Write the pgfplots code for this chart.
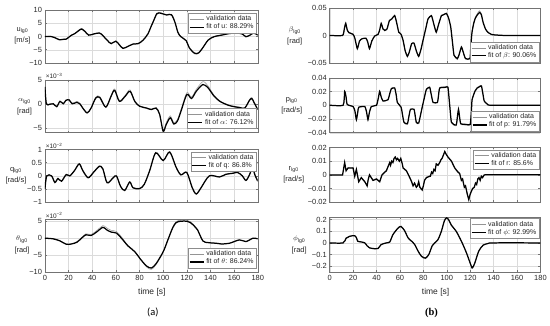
\documentclass[border=0pt]{standalone}
\usepackage{fontspec}
\setmainfont{Liberation Sans}
\newfontfamily\carlito{Carlito}
\newfontfamily\serifb{Liberation Serif}
\usepackage{pgfplots}
\pgfplotsset{compat=1.18}
\pgfplotsset{
  myax/.style={scale only axis, anchor=south west, xmin=0, xmax=180,
    xtick={0,20,...,180}, xticklabels={}, grid=major, scaled y ticks=false,
    grid style={black!14, line width=0.3pt},
    axis line style={black!55, line width=0.4pt},
    tick style={black!55, line width=0.4pt}, major tick length=2pt,
    tick align=inside,
    ticklabel style={font=\fontsize{7.5}{8}\selectfont, text=black!85},
    yticklabel style={xshift=0.5pt},
    legend style={font=\fontsize{7}{7.5}\selectfont, draw=black!45, line width=0.3pt,
      inner sep=0.6pt, row sep=-2.5pt, legend cell align=left, text=black!85},
    legend image code/.code={\draw[##1] (0bp,0bp) -- (14bp,0bp);},
  },
  L/.style={myax, width=213bp, height=53bp},
  R/.style={myax, width=211bp, height=55bp},
  bottom/.style={xticklabels={0,20,40,60,80,100,120,140,160,180}},
  val/.style={color=black!42, line width=0.5pt},
  fit/.style={color=black, line width=1.25pt},
}
\begin{document}
\begin{tikzpicture}
\path (0bp,0bp) rectangle (550bp,326bp);
% ---------------- u
\begin{axis}[L, at={(45bp,263bp)}, ymin=-10, ymax=10, ytick={-10,-5,0,5,10},
  yticklabels={−10,−5,0,5,10},
  legend style={at={(0.993,0.94)}, anchor=north east}]
\addplot[val, smooth] coordinates {(0,0) (5,0.1) (8,-0.3) (12,-1.1) (15.5,-1.0) (18,-0.9) (22.5,0.6) (25,1.1) (28,2.2) (31,3.1) (34,2.0) (37,0.6) (41,1.0) (46,1.4) (49,0.4) (53,-1.5) (56,-2.6) (60,-1.7) (63,-3.0) (66,-4.3) (70,-3.7) (74.5,-2.7) (79,-2.5) (83,-1.3) (87,1.0) (90,4.1) (92,6.2) (94.5,8.8) (96.5,9.2) (100,8.6) (103,8.3) (107,8.4) (110,5.4) (112.5,1.6) (115,0) (119.5,-1.5) (122,-4.3) (126.5,-6.6) (130,-6.4) (133.6,-4.3) (138,-1.4) (143,0) (150.5,0.7) (156,1.2) (162,1.4) (167,1.0) (170,0) (173.5,0.6) (176.6,1.4) (180,0.6)};
\addlegendentry{validation data}
\addplot[fit, smooth] coordinates {(0,0) (5,0) (8,-0.4) (12,-1.2) (15.5,-1.1) (18,-1) (22.5,0.5) (25,1) (28,2) (31,2.8) (34,1.8) (37,0.5) (41,0.9) (46,1.3) (49,0.3) (53,-1.6) (56,-2.7) (60,-1.8) (63,-3.2) (66,-4.5) (70,-3.8) (74.5,-2.9) (79,-2.7) (83,-1.4) (87,0.9) (90,4) (92,6) (94.5,8.5) (96.5,8.9) (100,8.5) (103,8.1) (107,8.2) (110,5.3) (112.5,1.5) (115,-0.1) (119.5,-1.6) (122,-4.2) (126.5,-6.3) (130,-6.2) (133.6,-4.2) (138,-1.4) (143,-0.1) (150.5,0.6) (156,1.1) (162,1.3) (167,0.9) (170,-0.1) (173.5,0.5) (176.6,1.3) (180,0.5)};
\addlegendentry{fit of u: 88.29\%}
\end{axis}
% ---------------- alpha
\begin{axis}[L, name=axA, at={(45bp,193.2bp)}, ymin=-6, ymax=5, ytick={-5,0,5},
  yticklabels={−5,0,5},
  legend style={at={(0.993,0.08)}, anchor=south east}]
\addplot[val, smooth] coordinates {(0,3.5) (1.2,0.1) (4,0) (7,0.1) (10,-0.5) (12.7,0.6) (15.5,0.1) (17.7,0.8) (20.5,0.9) (23,0.1) (27,0.5) (29.5,0.1) (32,-0.8) (35.7,-1.8) (39,-0.8) (43,1.4) (46.4,1.5) (51.5,-0.6) (56,1.8) (59,3.1) (63,0.7) (68,1.8) (72,2.9) (76,0.6) (80,-0.4) (86,-0.8) (90,-1.1) (94,-0.8) (97,-2.0) (100,-5.4) (102.6,-3.9) (106,-2.5) (109,-3.9) (112,-3.3) (115,-1.3) (120,2.3) (124,1.4) (128,3.0) (133.6,4.6) (138,3.7) (143,1.8) (148,0.6) (155,-0.2) (160,-0.5) (165,-0.7) (169,-0.8) (173,0.9) (175,1.3) (177,0.3) (180,-1.1)};
\addlegendentry{validation data}
\addplot[fit, smooth] coordinates {(0,3.5) (1.2,0) (4,-0.1) (7,0) (10,-0.6) (12.7,0.5) (15.5,0) (17.7,0.7) (20.5,0.8) (23,0) (27,0.3) (29.5,0) (32,-0.9) (35.7,-1.9) (39,-0.9) (43,1.2) (46.4,1.3) (51.5,-0.7) (56,1.6) (59,2.8) (63,0.5) (68,1.6) (72,2.6) (76,0.5) (80,-0.5) (86,-0.9) (90,-1.2) (94,-0.9) (97,-2.2) (100,-5.7) (102.6,-4.3) (106,-2.9) (109,-4.2) (112,-3.6) (115,-1.6) (120,1.9) (124,1.1) (128,2.6) (133.6,4.0) (138,3.3) (143,1.6) (148,0.5) (155,-0.3) (160,-0.6) (165,-0.8) (169,-0.9) (173,0.7) (175,1.1) (177,0.2) (180,-1.2)};
\addlegendentry{fit of $\alpha$: 76.12\%}
\end{axis}
% ---------------- q
\begin{axis}[L, name=axQ, at={(45bp,123.4bp)}, ymin=-1, ymax=1, ytick={-1,-0.5,0,0.5,1},
  yticklabels={−1,−0.5,0,0.5,1},
  legend style={at={(0.993,0.96)}, anchor=north east}]
\addplot[val, smooth] coordinates {(0,-0.5) (1.5,0) (5.6,0.01) (8.4,-0.23) (11,-0.08) (14,-0.18) (18,0.07) (21,0.02) (25,0.22) (29,0.48) (32,0.23) (36.5,-0.05) (41,0.15) (46,0.39) (49,0.29) (52.6,-0.24) (57.7,-0.05) (60.5,0.02) (64,-0.38) (67.5,-0.53) (71.7,-0.21) (74.5,-0.43) (80,-0.46) (84,-0.3) (88.6,0.22) (93.7,0.9) (100,0.6) (105.5,0.93) (111,0.34) (115,0.06) (120,0.15) (124.6,-0.43) (128,-0.7) (132,-0.46) (139,0.01) (147.7,-0.03) (153,0.07) (159,0.11) (163,0.14) (167,0.01) (170,-0.16) (173,0.05) (175.5,0.33) (177.5,0.06) (180,-0.19)};
\addlegendentry{validation data}
\addplot[fit, smooth] coordinates {(0,-0.5) (1.5,0) (5.6,0) (8.4,-0.25) (11,-0.1) (14,-0.2) (18,0.05) (21,0) (25,0.2) (29,0.45) (32,0.2) (36.5,-0.07) (41,0.13) (46,0.36) (49,0.26) (52.6,-0.26) (57.7,-0.07) (60.5,0) (64,-0.4) (67.5,-0.55) (71.7,-0.23) (74.5,-0.45) (80,-0.48) (84,-0.32) (88.6,0.2) (93.7,0.87) (100,0.58) (105.5,0.9) (111,0.32) (115,0.04) (120,0.13) (124.6,-0.45) (128,-0.68) (132,-0.45) (139,0) (147.7,-0.04) (153,0.06) (159,0.1) (163,0.13) (167,0) (170,-0.17) (173,0.04) (175.5,0.32) (177.5,0.05) (180,-0.2)};
\addlegendentry{fit of q: 86.8\%}
\end{axis}
% ---------------- theta
\begin{axis}[L, name=axT, bottom, at={(45bp,53.6bp)}, ymin=-10, ymax=5.6, ytick={-10,-5,0,5},
  yticklabels={−10,−5,0,5},
  legend style={at={(0.993,0.08)}, anchor=south east}]
\addplot[val, smooth] coordinates {(0,0) (7,-0.1) (12.7,-0.7) (18,-1.7) (22.5,-1.6) (27,-1.0) (31,0.2) (34.6,1.3) (39,1.1) (43.6,2.2) (49,3.7) (52,3.1) (56,2.3) (60.5,2.0) (64.7,0.4) (70,-2.0) (76,-3.9) (81.5,-6.5) (86,-8.5) (90,-9.2) (94,-7.8) (100,-4.1) (104,-0.4) (108,3.2) (111,4.9) (115,5.3) (120,5.3) (123,4.9) (126.5,3.7) (129,2.6) (133.6,-0.8) (138,-1.3) (145,-1.5) (149,-1.7) (156,-1.5) (164.5,-0.5) (170,-1) (176,0) (180,-0.2)};
\addlegendentry{validation data}
\addplot[fit, smooth] coordinates {(0,0) (7,-0.2) (12.7,-0.8) (18,-1.8) (22.5,-1.7) (27,-1.2) (31,0) (34.6,1) (39,0.8) (43.6,1.8) (49,3.2) (52,2.5) (56,1.8) (60.5,1.5) (64.7,0) (70,-2.2) (76,-4) (81.5,-6.5) (86,-8.2) (90,-8.8) (94,-7.5) (100,-4) (104,-0.5) (108,3) (111,4.6) (115,5) (120,5) (123,4.6) (126.5,3.5) (129,2.5) (133.6,-0.8) (138,-1.3) (145,-1.5) (149,-1.7) (156,-1.5) (164.5,-0.5) (170,-1) (176,0) (180,-0.2)};
\addlegendentry{fit of $\theta$: 86.24\%}
\end{axis}
% ---------------- beta
\begin{axis}[R, at={(330bp,263bp)}, ymin=-0.05, ymax=0.05, ytick={-0.05,0,0.05},
  yticklabels={−0.05,0,0.05},
  legend style={at={(0.993,0.02)}, anchor=south east}]
\addplot[val, smooth, tension=0.3] coordinates {(0,0) (11,0) (12.5,0.013) (13.7,0.023) (15,0.011) (16.5,0.006) (20,0.003) (21.5,-0.004) (23.6,-0.025) (25.5,-0.01) (27.6,-0.006) (31,-0.005) (32.5,-0.012) (34,-0.025) (36,-0.01) (38.4,-0.001) (41.3,0.002) (42.7,0.011) (44,0.023) (45.5,0.013) (47,0.01) (49,0.013) (51,0.028) (53,0.031) (55.5,0.037) (57,0.026) (59,0.006) (61,0.002) (62.7,-0.009) (64.5,-0.029) (66.4,-0.039) (68,-0.031) (70,-0.015) (72,-0.014) (74,-0.029) (76,-0.039) (78,-0.025) (79.7,-0.009) (82,0.013) (84,0.031) (86.9,0.037) (89,0.021) (91,0.007) (93,0.021) (95.4,0.037) (97.5,0.039) (99.7,0.041) (101.5,0.033) (103.4,0.015) (105,-0.015) (106.2,-0.037) (109,-0.044) (110.5,-0.036) (112.5,-0.022) (114,-0.031) (116,-0.043) (119.8,-0.043) (120.5,-0.02) (121.5,0.006) (123,0.024) (124.5,0.034) (127,0.043) (128,0.045) (129.5,0.04) (131,0.025) (133,0.013) (135,0.006) (138,0.002) (141,0.001) (150,0) (180,0)};
\addlegendentry{validation data}
\addplot[fit, smooth, tension=0.3] coordinates {(0,0) (11,0) (12.5,0.012) (13.7,0.022) (15,0.01) (16.5,0.005) (20,0.002) (21.5,-0.005) (23.6,-0.024) (25.5,-0.01) (27.6,-0.006) (31,-0.005) (32.5,-0.012) (34,-0.024) (36,-0.01) (38.4,-0.001) (41.3,0.002) (42.7,0.01) (44,0.022) (45.5,0.012) (47,0.009) (49,0.012) (51,0.027) (53,0.03) (55.5,0.036) (57,0.025) (59,0.006) (61,0.002) (62.7,-0.009) (64.5,-0.028) (66.4,-0.038) (68,-0.03) (70,-0.015) (72,-0.014) (74,-0.028) (76,-0.038) (78,-0.025) (79.7,-0.009) (82,0.012) (84,0.03) (86.9,0.036) (89,0.02) (91,0.006) (93,0.02) (95.4,0.036) (97.5,0.038) (99.7,0.04) (101.5,0.032) (103.4,0.015) (105,-0.015) (106.2,-0.036) (109,-0.042) (110.5,-0.035) (112.5,-0.021) (114,-0.03) (116,-0.042) (119.8,-0.042) (120.5,-0.02) (121.5,0.005) (123,0.022) (124.5,0.032) (127,0.04) (128,0.042) (129.5,0.038) (131,0.024) (133,0.012) (135,0.006) (138,0.002) (141,0.001) (150,0) (180,0)};
\addlegendentry{fit of $\beta$: 90.06\%}
\end{axis}
% ---------------- p
\begin{axis}[R, at={(330bp,193.2bp)}, ymin=-0.04, ymax=0.04, ytick={-0.04,-0.02,0,0.02,0.04},
  yticklabels={−0.04,−0.02,0,0.02,0.04},
  legend style={at={(0.993,0.03)}, anchor=south east}]
\addplot[val, smooth, tension=0.3] coordinates {(0,0) (11.5,0) (12.8,0.021) (14,0.012) (15,0.001) (20,-0.002) (21.5,-0.008) (22.8,-0.022) (24,-0.01) (24.8,-0.003) (30,-0.002) (31.5,-0.01) (32.7,-0.022) (34,-0.01) (35.6,-0.002) (40,0) (41.5,0.01) (42.7,0.021) (44,0.012) (45.6,0.006) (49.8,0.008) (51.5,0.018) (52.7,0.025) (55.5,0.026) (56.8,0.015) (57.8,0.004) (61,-0.003) (62.3,-0.015) (63.5,-0.026) (66.4,-0.028) (67.8,-0.015) (69,-0.006) (72,-0.006) (73,-0.015) (74,-0.026) (76,-0.027) (77.5,-0.015) (79,-0.003) (81,0.012) (82.6,0.024) (85.4,0.027) (86.8,0.015) (88.3,0.004) (92,0.004) (93,0.015) (94,0.026) (99,0.027) (101,0.027) (102.5,0.0) (104,-0.026) (108,-0.03) (109,-0.018) (110,-0.006) (111,-0.018) (112,-0.028) (116.8,-0.029) (120,-0.029) (121,-0.01) (121.6,0.008) (124,0.021) (126,0.026) (128,0.028) (129.6,0.029) (131,0.015) (132,0.006) (135,0.001) (138,0) (180,0)};
\addlegendentry{validation data}
\addplot[fit, smooth, tension=0.3] coordinates {(0,0) (11.5,0) (12.8,0.02) (14,0.012) (15,0.001) (20,-0.002) (21.5,-0.008) (22.8,-0.021) (24,-0.01) (24.8,-0.003) (30,-0.002) (31.5,-0.01) (32.7,-0.021) (34,-0.01) (35.6,-0.002) (40,0) (41.5,0.01) (42.7,0.02) (44,0.012) (45.6,0.006) (49.8,0.008) (51.5,0.018) (52.7,0.024) (55.5,0.025) (56.8,0.015) (57.8,0.004) (61,-0.003) (62.3,-0.015) (63.5,-0.025) (66.4,-0.027) (67.8,-0.015) (69,-0.006) (72,-0.006) (73,-0.015) (74,-0.025) (76,-0.026) (77.5,-0.015) (79,-0.003) (81,0.012) (82.6,0.023) (85.4,0.026) (86.8,0.015) (88.3,0.004) (92,0.004) (93,0.015) (94,0.025) (99,0.026) (101,0.026) (102.5,0.0) (104,-0.025) (108,-0.029) (109,-0.018) (110,-0.006) (111,-0.018) (112,-0.027) (116.8,-0.028) (120,-0.028) (121,-0.01) (121.6,0.008) (124,0.02) (126,0.025) (128,0.027) (129.6,0.028) (131,0.015) (132,0.006) (135,0.001) (138,0) (180,0)};
\addlegendentry{fit of p: 91.79\%}
\end{axis}
% ---------------- r
\begin{axis}[R, at={(330bp,123.4bp)}, ymin=-0.02, ymax=0.02, ytick={-0.02,-0.01,0,0.01,0.02},
  yticklabels={−0.02,−0.01,0,0.01,0.02},
  legend style={at={(0.993,0.96)}, anchor=north east}]
\addplot[val] coordinates {(0,0) (11,0) (12.8,0.0095) (14,0.0035) (15.7,0.0055) (18,0.005) (20,0.0055) (21.4,-0.0005) (22.8,0.0045) (24.8,-0.0045) (27,-0.0015) (30,-0.0045) (32,-0.0075) (33,-0.0025) (34,0.0005) (37,-0.0035) (40,-0.0025) (42.7,-0.0045) (44.7,0.0005) (48.4,0.0035) (51.3,0.0095) (52,0.0075) (53,0.0105) (54,0.0095) (55,0.0125) (56,0.0135) (57,0.0115) (58,0.0125) (59.5,0.0105) (60.7,0.0125) (62,0.0085) (62.7,0.0055) (65.5,0.0035) (68.4,-0.0015) (70,-0.0045) (71.2,-0.0075) (72.5,-0.0055) (74,-0.0085) (75,-0.0075) (76,-0.0045) (77,-0.0085) (79,-0.0105) (80,-0.0075) (81,-0.0035) (82.6,-0.0015) (85.4,-0.0005) (86,-0.0005) (87,0.0025) (88,0.0015) (89,0.0045) (90,0.0035) (91,0.0085) (92.5,0.0075) (94,0.0095) (95,0.0115) (96,0.0125) (98.3,0.0175) (99.5,0.0155) (101,0.0135) (104,0.0105) (106.8,0.0055) (109.6,0.0025) (111,0.0015) (112.5,-0.0035) (113.5,-0.0025) (115,-0.0085) (116,-0.0075) (117.5,-0.0135) (118.8,-0.0175) (120,-0.0135) (121,-0.0115) (122,-0.0095) (123.5,-0.0085) (124.5,-0.0055) (125.5,-0.0065) (126.5,-0.0025) (127.5,-0.0015) (128.5,-0.0035) (129.5,-0.0005) (130.5,-0.0015) (132,0.0002) (135,0.0003) (180,0.0003)};
\addlegendentry{validation data}
\addplot[fit] coordinates {(0,0) (11,0) (12.8,0.009) (14,0.003) (15.7,0.005) (18,0.005) (20,0.005) (21.4,-0.001) (22.8,0.004) (24.8,-0.005) (27,-0.002) (30,-0.005) (32,-0.008) (33,-0.003) (34,0) (37,-0.004) (40,-0.003) (42.7,-0.005) (44.7,0) (48.4,0.003) (51.3,0.009) (52,0.007) (53,0.01) (54,0.009) (55,0.012) (56,0.013) (57,0.011) (58,0.012) (59.5,0.01) (60.7,0.012) (62,0.008) (62.7,0.005) (65.5,0.003) (68.4,-0.002) (70,-0.005) (71.2,-0.008) (72.5,-0.006) (74,-0.009) (75,-0.008) (76,-0.005) (77,-0.009) (79,-0.011) (80,-0.008) (81,-0.004) (82.6,-0.002) (85.4,-0.001) (86,-0.001) (87,0.002) (88,0.001) (89,0.004) (90,0.003) (91,0.008) (92.5,0.007) (94,0.009) (95,0.011) (96,0.012) (98.3,0.017) (99.5,0.015) (101,0.013) (104,0.01) (106.8,0.005) (109.6,0.002) (111,0.001) (112.5,-0.004) (113.5,-0.003) (115,-0.009) (116,-0.008) (117.5,-0.014) (118.8,-0.018) (120,-0.014) (121,-0.012) (122,-0.01) (123.5,-0.009) (124.5,-0.006) (125.5,-0.007) (126.5,-0.003) (127.5,-0.002) (128.5,-0.004) (129.5,-0.001) (130.5,-0.002) (132,0) (135,0.0002) (180,0.0002)};
\addlegendentry{fit of r: 85.6\%}
\end{axis}
% ---------------- phi
\begin{axis}[R, bottom, at={(330bp,53.6bp)}, ymin=-0.25, ymax=0.22, ytick={-0.2,-0.1,0,0.1,0.2},
  yticklabels={−0.2,−0.1,0,0.1,0.2},
  legend style={at={(0.993,0.98)}, anchor=north east}]
\addplot[val, smooth, tension=0.45] coordinates {(0,0) (11.4,0) (14,0.042) (17,0.058) (21.4,0.064) (23,0.042) (24,0.016) (27,0.009) (30,0) (32,-0.026) (34,-0.044) (38.4,-0.052) (41.3,-0.05) (44,-0.015) (48.4,0) (51.3,0.009) (54,0.072) (58.4,0.131) (61,0.145) (64,0.107) (67,0.043) (70,0.015) (72.6,-0.014) (75.5,-0.072) (78.3,-0.118) (81.7,-0.137) (84.6,-0.104) (87.4,-0.029) (89.7,0) (92.5,0.029) (95.4,0.102) (98,0.195) (100,0.222) (102,0.195) (104,0.154) (108,0.102) (112.5,0.014) (116.8,-0.088) (121,-0.205) (122,-0.218) (124,-0.175) (127.3,-0.072) (131,-0.02) (135,-0.006) (140,0) (180,0)};
\addlegendentry{validation data}
\addplot[fit, smooth, tension=0.45] coordinates {(0,0) (11.4,0) (14,0.04) (17,0.056) (21.4,0.062) (23,0.04) (24,0.014) (27,0.008) (30,0) (32,-0.025) (34,-0.042) (38.4,-0.05) (41.3,-0.048) (44,-0.014) (48.4,0) (51.3,0.008) (54,0.07) (58.4,0.127) (61,0.14) (64,0.104) (67,0.042) (70,0.014) (72.6,-0.014) (75.5,-0.07) (78.3,-0.113) (81.7,-0.13) (84.6,-0.1) (87.4,-0.028) (89.7,0) (92.5,0.028) (95.4,0.1) (98,0.19) (100,0.215) (102,0.19) (104,0.15) (108,0.1) (112.5,0.014) (116.8,-0.085) (121,-0.2) (122,-0.212) (124,-0.17) (127.3,-0.07) (131,-0.02) (135,-0.006) (140,0) (180,0)};
\addlegendentry{fit of $\phi$: 92.99\%}
\end{axis}
% ---------------- scale labels
\begin{scope}[every node/.style={anchor=south west, inner sep=0.6pt, font=\fontsize{6.5}{7}\selectfont, text=black!85}]
\node at (axA.north west) {×10\textsuperscript{−3}};
\node at (axQ.north west) {×10\textsuperscript{−2}};
\node at (axT.north west) {×10\textsuperscript{−2}};
\end{scope}
% ---------------- labels
\begin{scope}[every node/.style={align=center, font=\fontsize{7.5}{11.5}\selectfont, text=black!85}]
\node at (22.5bp,290bp) {u\textsubscript{lg0}\\{[m/s]}};
\node at (24.5bp,219bp) {$\alpha$\textsubscript{lg0}\\{[rad]}};
\node at (16bp,150bp) {q\textsubscript{lg0}\\{[rad/s]}};
\node at (22bp,81bp) {$\theta$\textsubscript{lg0}\\{[rad]}};
\node at (295bp,290bp) {$\beta$\textsubscript{lg0}\\{[rad]}};
\node at (292bp,220bp) {p\textsubscript{lg0}\\{[rad/s]}};
\node at (294bp,151bp) {r\textsubscript{lg0}\\{[rad/s]}};
\node at (299.5bp,81bp) {$\phi$\textsubscript{lg0}\\{[rad]}};
\end{scope}
\node[font=\fontsize{8.5}{9}\selectfont, text=black!85] at (152bp,33bp) {time [s]};
\node[font=\fontsize{8.5}{9}\selectfont, text=black!85] at (436bp,33bp) {time [s]};
\node[font=\carlito\fontsize{10.5}{12}\selectfont] at (153bp,13bp) {(a)};
\node[font=\serifb\bfseries\fontsize{10.5}{12}\selectfont] at (432bp,13bp) {(b)};
\end{tikzpicture}
\end{document}
